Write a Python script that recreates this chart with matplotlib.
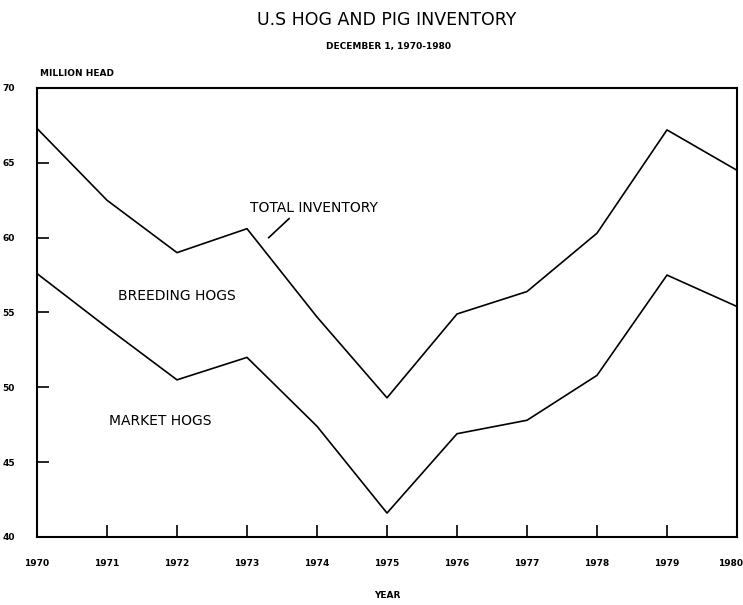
import matplotlib
matplotlib.use("Agg")
import matplotlib.pyplot as plt
from matplotlib.transforms import ScaledTranslation

years = [1970, 1971, 1972, 1973, 1974, 1975, 1976, 1977, 1978, 1979, 1980]
total_inventory = [67.3, 62.5, 59.0, 60.6, 54.7, 49.3, 54.9, 56.4, 60.3, 67.2, 64.5]
market_hogs = [57.6, 54.0, 50.5, 52.0, 47.4, 41.6, 46.9, 47.8, 50.8, 57.5, 55.4]
y_ticks = [40, 45, 50, 55, 60, 65, 70]

plt.rcParams['font.family'] = ['DejaVu Sans']

fig = plt.figure(figsize=(7.43, 6.05), dpi=100)
ax = fig.add_axes([37/743, 68/605, 700/743, 449/605])

ax.plot(years, total_inventory, color='black', lw=1.2)
ax.plot(years, market_hogs, color='black', lw=1.2)

ax.set_xlim(1970, 1980)
ax.set_ylim(40, 70)
ax.set_xticks(years)
ax.set_xticklabels([str(y) for y in years], fontsize=6.5, fontweight='bold')
ax.set_yticks(y_ticks)
ax.set_yticklabels([str(v) for v in y_ticks], fontsize=6.5, fontweight='bold')
ax.tick_params(axis='both', direction='in', length=8.5, width=1.2)
ax.tick_params(axis='x', pad=16)
ax.tick_params(axis='y', pad=16)
for s in ax.spines.values():
    s.set_linewidth(1.5)

# keep the last year label inside the figure
last = ax.get_xticklabels()[-1]
last.set_transform(last.get_transform() + ScaledTranslation(-6/100, 0, fig.dpi_scale_trans))

# annotations in plot
ax.text(1973.04, 62.0, 'TOTAL INVENTORY', fontsize=10, family=['DejaVu Sans'],
        ha='left', va='center')
ax.plot([1973.6, 1973.31], [61.27, 60.0], color='black', lw=1.2)
ax.text(1971.15, 56.07, 'BREEDING HOGS', fontsize=10, family=['DejaVu Sans'],
        ha='left', va='center')
ax.text(1971.03, 47.73, 'MARKET HOGS', fontsize=10, family=['DejaVu Sans'],
        ha='left', va='center')

fig.text(387/743, 1 - 20/605, 'U.S HOG AND PIG INVENTORY', fontsize=12.5,
         ha='center', va='center')
fig.text(388/743, 1 - 46/605, 'DECEMBER 1, 1970-1980', fontsize=6.5,
         fontweight='bold', ha='center', va='center')
fig.text(40/743, 1 - 73/605, 'MILLION HEAD', fontsize=6.5, fontweight='bold',
         ha='left', va='center')
fig.text(387/743, 1 - 596/605, 'YEAR', fontsize=6.5, fontweight='bold',
         ha='center', va='center')

fig.savefig('out.png', dpi=100)
